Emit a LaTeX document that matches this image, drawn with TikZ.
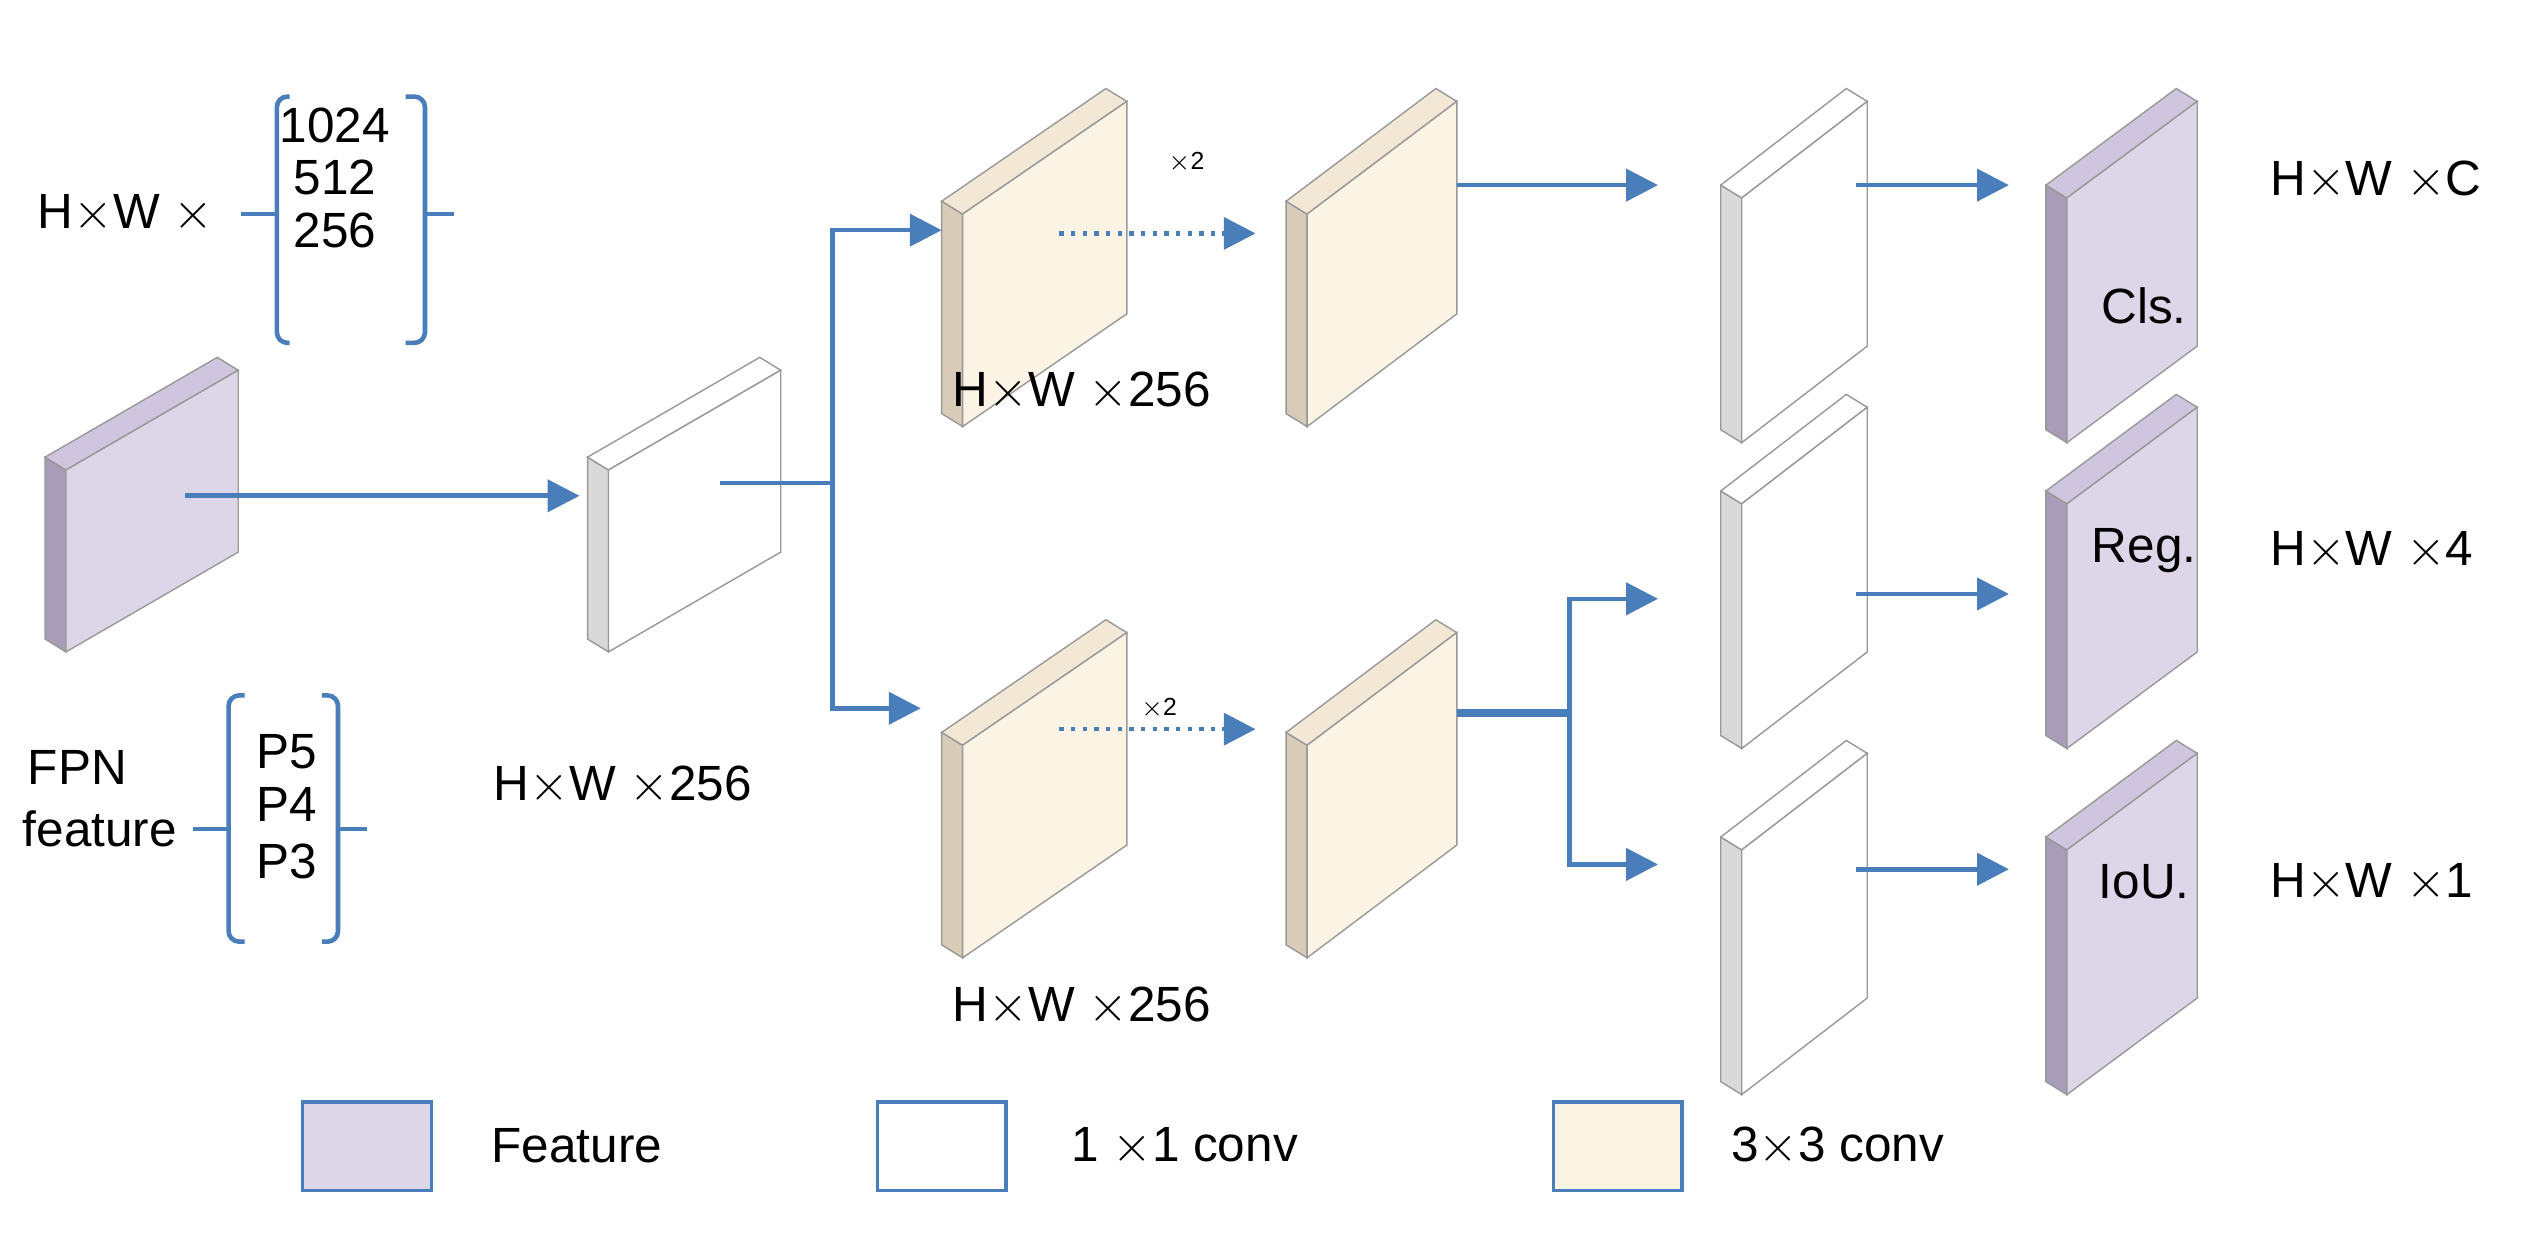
\documentclass[tikz,border=0pt]{standalone}
\usepackage{fontspec}
\setmainfont{Liberation Sans}
\usepackage{tikz}
\usetikzlibrary{positioning,arrows.meta}
\definecolor{featF}{HTML}{DDD5E8}
\definecolor{featS}{HTML}{A89CB8}
\definecolor{featT}{HTML}{CFC5DF}
\definecolor{convF}{HTML}{FBF3E4}
\definecolor{convS}{HTML}{D8CBB8}
\definecolor{convT}{HTML}{F3E8D6}
\definecolor{oneS}{HTML}{D9D9D9}
\definecolor{lineB}{HTML}{4A7EBB}
\tikzset{
  flow/.style={lineB, line width=1.3pt, -{Triangle[length=9pt,width=9pt]}},
  wire/.style={lineB, line width=1.3pt},
  dots/.style={lineB, line width=1.3pt, dotted, -{Triangle[length=9pt,width=9pt]}},
  brk/.style={lineB, line width=1.3pt, rounded corners=3pt},
  txt/.style={font=\fontsize{14}{16}\selectfont, inner sep=0pt},
  key/.style={draw=lineB, line width=1pt, minimum width=1.28cm, minimum height=0.88cm}
}
% #1 name, #2 x, #3 y (front bottom left), #4 w, #5 h, #6 skew, #7 front, #8 side, #9 top
\newcommand{\slab}[9]{%
  \filldraw[draw=gray!80, fill=#8] (#2,#3) -- (#2,#3-#5) -- (#2-13,#3-#5-8) -- (#2-13,#3-8) -- cycle;
  \filldraw[draw=gray!80, fill=#9] (#2,#3-#5) -- (#2+#4,#3-#5-#6) -- (#2+#4-13,#3-#5-#6-8) -- (#2-13,#3-#5-8) -- cycle;
  \filldraw[draw=gray!80, fill=#7] (#2,#3) -- (#2,#3-#5) -- (#2+#4,#3-#5-#6) -- (#2+#4,#3-#6) -- cycle;
  \coordinate (#1) at (#2+#4/2,#3-#5/2-#6/2);
}
\newcommand{\dimtxt}[1]{H$\times$W $\times$#1}
\begin{document}
\begin{tikzpicture}[x=0.016cm, y=-0.016cm]
\useasboundingbox (0,0) rectangle (1568,782);
% slabs
\slab{in}{41}{405}{107}{113}{62}{featF}{featS}{featT}
\slab{ca}{378}{405}{107}{113}{62}{white}{oneS}{white}
\slab{ta}{598}{265}{102}{132}{70}{convF}{convS}{convT}
\slab{tb}{812}{265}{93}{132}{70}{convF}{convS}{convT}
\slab{tc}{1082}{275}{78}{152}{60}{white}{oneS}{white}
\slab{cls}{1284}{275}{81}{152}{60}{featF}{featS}{featT}
\slab{ba}{598}{595}{102}{132}{70}{convF}{convS}{convT}
\slab{bb}{812}{595}{93}{132}{70}{convF}{convS}{convT}
\slab{ma}{1082}{465}{78}{152}{60}{white}{oneS}{white}
\slab{reg}{1284}{465}{81}{152}{60}{featF}{featS}{featT}
\slab{ia}{1082}{680}{78}{152}{60}{white}{oneS}{white}
\slab{iou}{1284}{680}{81}{152}{60}{featF}{featS}{featT}
% connectors
\coordinate (s1) at (115,308);
\coordinate (e1) at (360,308);
\draw[flow] (s1) -- (e1);
\coordinate (s2) at (447,300);
\coordinate (j1) at (517,300);
\coordinate (up) at (517,143);
\coordinate (dn) at (517,440);
\coordinate (e2) at (585,143);
\coordinate (e3) at (572,440);
\draw[wire] (s2) -- (j1);
\draw[flow] (j1) -- (up) -- (e2);
\draw[flow] (j1) -- (dn) -- (e3);
\coordinate (s4) at (658,145);
\coordinate (e4) at (780,145);
\draw[dots] (s4) -- (e4);
\coordinate (s5) at (658,453);
\coordinate (e5) at (780,453);
\draw[dots] (s5) -- (e5);
\coordinate (s6) at (905,115);
\coordinate (e6) at (1030,115);
\draw[flow] (s6) -- (e6);
\coordinate (s7) at (1153,115);
\coordinate (e7) at (1248,115);
\draw[flow] (s7) -- (e7);
\coordinate (s8) at (905,443);
\coordinate (j2) at (975,443);
\coordinate (uq) at (975,372);
\coordinate (dq) at (975,537);
\coordinate (e8) at (1030,372);
\coordinate (e9) at (1030,537);
\draw[wire, line width=2.2pt] (s8) -- (j2);
\draw[flow] (j2) -- (uq) -- (e8);
\draw[flow] (j2) -- (dq) -- (e9);
\coordinate (s10) at (1153,369);
\coordinate (e10) at (1248,369);
\draw[flow] (s10) -- (e10);
\coordinate (s11) at (1153,540);
\coordinate (e11) at (1248,540);
\draw[flow] (s11) -- (e11);
% brackets
\draw[brk] (180,60) -- (172,60) -- (172,213) -- (180,213);
\draw[brk] (150,133) -- (172,133);
\draw[brk] (252,60) -- (264,60) -- (264,213) -- (252,213);
\draw[brk] (264,133) -- (282,133);
\draw[brk] (152,432) -- (142,432) -- (142,585) -- (152,585);
\draw[brk] (120,515) -- (142,515);
\draw[brk] (200,432) -- (210,432) -- (210,585) -- (200,585);
\draw[brk] (210,515) -- (228,515);
% labels
\node[txt] (hw0) at (78,133) {H$\times$W $\times$};
\node[txt] (n1) at (208,78) {1024};
\node[txt] (n2) at (208,110) {512};
\node[txt] (n3) at (208,143) {256};
\node[txt] (fpn) at (48,477) {FPN};
\node[txt] (fea) at (62,515) {feature};
\node[txt] (p5) at (178,467) {P5};
\node[txt] (p4) at (178,500) {P4};
\node[txt] (p3) at (178,535) {P3};
\node[txt] (hw1) at (387,488) {\dimtxt{256}};
\node[txt] (hw2) at (672,243) {\dimtxt{256}};
\node[txt] (hw3) at (672,625) {\dimtxt{256}};
\node[txt, font=\scriptsize] (x2a) at (737,101) {$\times$2};
\node[txt, font=\scriptsize] (x2b) at (720,440) {$\times$2};
\node[txt] (tcls) at (1332,190) {Cls.};
\node[txt] (treg) at (1332,342) {Reg.};
\node[txt] (tiou) at (1332,548) {IoU.};
\node[txt, anchor=west] (hwc) at (1410,112) {\dimtxt{C}};
\node[txt, anchor=west] (hw4) at (1410,342) {\dimtxt{4}};
\node[txt, anchor=west] (hw5) at (1410,548) {\dimtxt{1}};
% legend
\node[key, fill=featF] (k1) at (228,712) {};
\node[txt, anchor=west] (l1) at (305,712) {Feature};
\node[key, fill=white] (k2) at (585,712) {};
\node[txt, anchor=west] (l2) at (665,712) {1 $\times$1 conv};
\node[key, fill=convF] (k3) at (1005,712) {};
\node[txt, anchor=west] (l3) at (1075,712) {3$\times$3 conv};
\end{tikzpicture}
\end{document}
